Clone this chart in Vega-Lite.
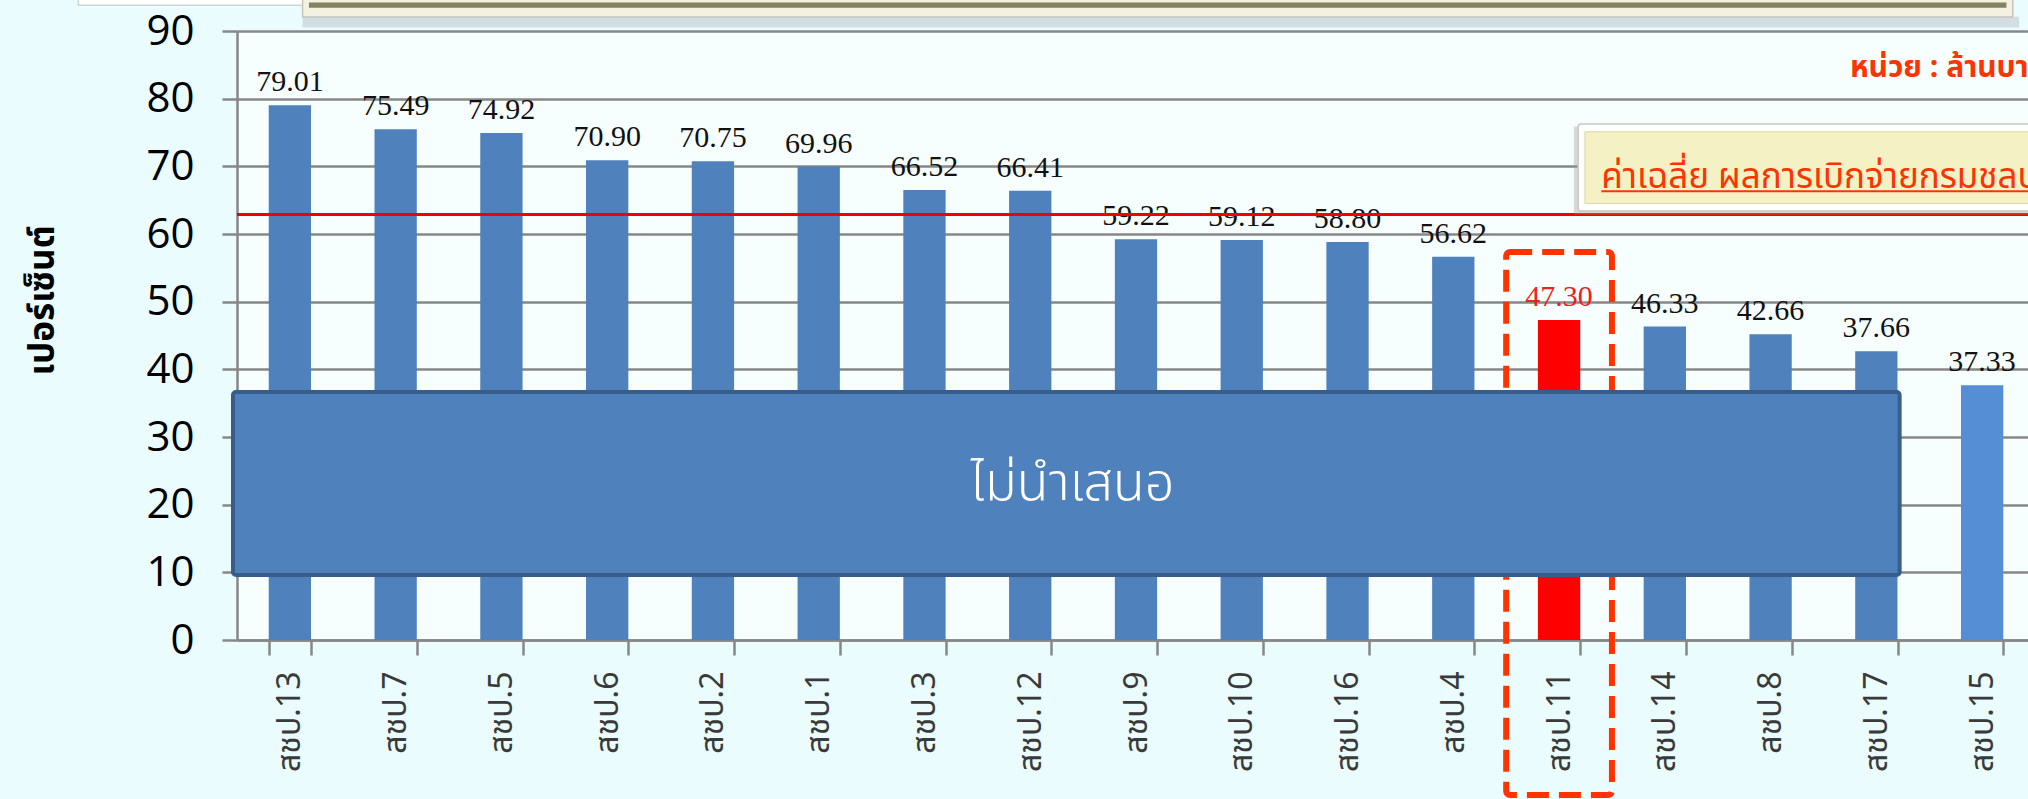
{
  "$schema": "https://vega.github.io/schema/vega-lite/v6.json",
  "autosize": "none",
  "width": 1791,
  "height": 609,
  "padding": {"left": 237, "top": 31, "right": 0, "bottom": 159},
  "background": "#eafcfd",
  "view": {"fill": "#f7fefe", "stroke": null},
  "datasets": {
    "bars": [
      {"region": "สชป.13", "value": 79.01, "label": "79.01", "kind": "normal"},
      {"region": "สชป.7", "value": 75.49, "label": "75.49", "kind": "normal"},
      {"region": "สชป.5", "value": 74.92, "label": "74.92", "kind": "normal"},
      {"region": "สชป.6", "value": 70.90, "label": "70.90", "kind": "normal"},
      {"region": "สชป.2", "value": 70.75, "label": "70.75", "kind": "normal"},
      {"region": "สชป.1", "value": 69.96, "label": "69.96", "kind": "normal"},
      {"region": "สชป.3", "value": 66.52, "label": "66.52", "kind": "normal"},
      {"region": "สชป.12", "value": 66.41, "label": "66.41", "kind": "normal"},
      {"region": "สชป.9", "value": 59.22, "label": "59.22", "kind": "normal"},
      {"region": "สชป.10", "value": 59.12, "label": "59.12", "kind": "normal"},
      {"region": "สชป.16", "value": 58.80, "label": "58.80", "kind": "normal"},
      {"region": "สชป.4", "value": 56.62, "label": "56.62", "kind": "normal"},
      {"region": "สชป.11", "value": 47.30, "label": "47.30", "kind": "focus"},
      {"region": "สชป.14", "value": 46.33, "label": "46.33", "kind": "normal"},
      {"region": "สชป.8", "value": 45.2, "label": "42.66", "kind": "normal"},
      {"region": "สชป.17", "value": 42.66, "label": "37.66", "kind": "normal"},
      {"region": "สชป.15", "value": 37.66, "label": "37.33", "kind": "other"}
    ],
    "notes": [
      {"part": "slide-box", "x1": -1.5, "x2": 0.7, "y1": 93.8, "y2": 95.5},
      {"part": "top-shadow", "x1": 0.62, "x2": 16.85, "y1": 90.5, "y2": 92.1},
      {"part": "top-box", "x1": 0.62, "x2": 16.79, "y1": 92.06, "y2": 95.5},
      {"part": "top-band", "x1": 0.68, "x2": 16.73, "y1": 93.45, "y2": 94.2},
      {"part": "highlight", "x1": 12.0, "x2": 13.0, "y1": -22.9, "y2": 57.34},
      {"part": "omitted", "x1": -0.038, "x2": 15.72, "y1": 9.6, "y2": 36.65},
      {"part": "average", "y1": 62.88},
      {"part": "callout-shadow", "x1": 12.64, "x2": 17.3, "y1": 62.9, "y2": 75.9},
      {"part": "callout", "x1": 12.68, "x2": 17.3, "y1": 63.4, "y2": 76.25},
      {"part": "callout-fill", "x1": 12.745, "x2": 17.3, "y1": 64.5, "y2": 75.1},
      {"part": "underline", "x1": 12.9, "x2": 17.3, "y1": 66.3},
      {"part": "omitted-text", "x1": 7.9, "y1": 23.1, "text": "ไม่นำเสนอ"},
      {"part": "callout-text", "x1": 12.9, "y1": 66.8, "text": "ค่าเฉลี่ย ผลการเบิกจ่ายกรมชลประทาน"},
      {"part": "unit-text", "x1": 15.25, "y1": 83.25, "text": "หน่วย : ล้านบาท"}
    ]
  },
  "resolve": {"scale": {"x": "independent", "y": "independent"}},
  "layer": [
    {
      "data": {"name": "bars"},
      "layer": [
        {
          "mark": {"type": "bar"},
          "encoding": {
            "x": {
              "field": "region", "type": "nominal", "sort": null,
              "scale": {"range": [0, 1798], "paddingInner": 0.6, "paddingOuter": 0.3},
              "axis": {
                "title": null,
                "labelAngle": -90, "labelAlign": "right", "labelBaseline": "middle",
                "labelFont": "Noto Sans Thai, Noto Sans, sans-serif", "labelFontSize": 32, "labelColor": "#3a3a3a",
                "labelPadding": 16, "tickBand": "extent", "tickSize": 15,
                "tickColor": "#878787", "tickWidth": 2.5,
                "domainColor": "#878787", "domainWidth": 2.5, "grid": false
              }
            },
            "y": {
              "field": "value", "type": "quantitative",
              "scale": {"domain": [0, 90], "nice": false},
              "axis": {
                "title": "เปอร์เซ็นต์",
                "titleFont": "Noto Sans Thai, Noto Sans, sans-serif", "titleFontSize": 35, "titleFontWeight": "bold", "titleColor": "#000000",
                "titleX": -195, "titleY": 269, "titleAngle": 270, "titleAlign": "center", "titleBaseline": "middle",
                "values": [0, 10, 20, 30, 40, 50, 60, 70, 80, 90],
                "labelFont": "Open Sans", "labelFontSize": 42, "labelColor": "#000000",
                "labelPadding": 28, "labelOverlap": false,
                "tickSize": 15, "tickColor": "#878787", "tickWidth": 2.5,
                "domainColor": "#878787", "domainWidth": 2.5,
                "grid": true, "gridColor": "#878787", "gridWidth": 2.5
              }
            },
            "color": {
              "field": "kind", "type": "nominal",
              "scale": {"domain": ["normal", "focus", "other"], "range": ["#4f81bd", "#ff0000", "#558ed5"]},
              "legend": null
            }
          }
        },
        {
          "mark": {"type": "text", "font": "Liberation Serif", "fontSize": 30, "baseline": "middle", "dy": -23},
          "encoding": {
            "x": {"field": "region", "type": "nominal", "sort": null},
            "y": {"field": "value", "type": "quantitative"},
            "text": {"field": "label"},
            "color": {"condition": {"test": "datum.kind === 'focus'", "value": "#f02020"}, "value": "#111111"}
          }
        }
      ]
    },
    {
      "data": {"name": "notes"},
      "layer": [
        {
          "transform": [{"filter": "datum.part === 'slide-box'"}],
          "mark": {"type": "rect", "fill": "#ffffff", "stroke": "#cfd4d6", "strokeWidth": 1.5},
          "encoding": {
            "x": {"field": "x1", "type": "quantitative", "scale": {"domain": [0, 17], "range": [0, 1798], "nice": false, "zero": false}, "axis": null},
            "x2": {"field": "x2"},
            "y": {"field": "y1", "type": "quantitative", "scale": {"domain": [0, 90], "nice": false}, "axis": null},
            "y2": {"field": "y2"}
          }
        },
        {
          "transform": [{"filter": "datum.part === 'top-shadow'"}],
          "mark": {"type": "rect", "fill": "#c9d2d6", "opacity": 0.7},
          "encoding": {
            "x": {"field": "x1", "type": "quantitative"}, "x2": {"field": "x2"},
            "y": {"field": "y1", "type": "quantitative"}, "y2": {"field": "y2"}
          }
        },
        {
          "transform": [{"filter": "datum.part === 'top-box'"}],
          "mark": {"type": "rect", "fill": "#f3f1e0", "stroke": "#c4c4bc", "strokeWidth": 1.5},
          "encoding": {
            "x": {"field": "x1", "type": "quantitative"}, "x2": {"field": "x2"},
            "y": {"field": "y1", "type": "quantitative"}, "y2": {"field": "y2"}
          }
        },
        {
          "transform": [{"filter": "datum.part === 'top-band'"}],
          "mark": {"type": "rect", "fill": "#838362"},
          "encoding": {
            "x": {"field": "x1", "type": "quantitative"}, "x2": {"field": "x2"},
            "y": {"field": "y1", "type": "quantitative"}, "y2": {"field": "y2"}
          }
        },
        {
          "transform": [{"filter": "datum.part === 'highlight'"}],
          "mark": {"type": "rect", "fill": "#ffffff", "fillOpacity": 0, "stroke": "#ff3300", "strokeWidth": 6, "strokeDash": [22, 10], "cornerRadius": 4},
          "encoding": {
            "x": {"field": "x1", "type": "quantitative"}, "x2": {"field": "x2"},
            "y": {"field": "y1", "type": "quantitative"}, "y2": {"field": "y2"}
          }
        },
        {
          "transform": [{"filter": "datum.part === 'omitted'"}],
          "mark": {"type": "rect", "fill": "#4f81bd", "stroke": "#385d8a", "strokeWidth": 4, "cornerRadius": 3},
          "encoding": {
            "x": {"field": "x1", "type": "quantitative"}, "x2": {"field": "x2"},
            "y": {"field": "y1", "type": "quantitative"}, "y2": {"field": "y2"}
          }
        },
        {
          "transform": [{"filter": "datum.part === 'omitted-text'"}],
          "mark": {"type": "text", "font": "Noto Sans Thai, Noto Sans, sans-serif", "fontSize": 52, "fontWeight": 300, "color": "#ffffff", "align": "center", "baseline": "middle"},
          "encoding": {
            "x": {"field": "x1", "type": "quantitative"},
            "y": {"field": "y1", "type": "quantitative"},
            "text": {"field": "text"}
          }
        },
        {
          "transform": [{"filter": "datum.part === 'average'"}],
          "mark": {"type": "rule", "color": "#ee0000", "strokeWidth": 3},
          "encoding": {
            "y": {"field": "y1", "type": "quantitative"}
          }
        },
        {
          "transform": [{"filter": "datum.part === 'callout-shadow'"}],
          "mark": {"type": "rect", "fill": "#9a9a90", "opacity": 0.35},
          "encoding": {
            "x": {"field": "x1", "type": "quantitative"}, "x2": {"field": "x2"},
            "y": {"field": "y1", "type": "quantitative"}, "y2": {"field": "y2"}
          }
        },
        {
          "transform": [{"filter": "datum.part === 'callout'"}],
          "mark": {"type": "rect", "fill": "#ffffff", "stroke": "#c8c8c0", "strokeWidth": 1.5, "cornerRadius": 3},
          "encoding": {
            "x": {"field": "x1", "type": "quantitative"}, "x2": {"field": "x2"},
            "y": {"field": "y1", "type": "quantitative"}, "y2": {"field": "y2"}
          }
        },
        {
          "transform": [{"filter": "datum.part === 'callout-fill'"}],
          "mark": {"type": "rect", "fill": "#f4f2c4", "stroke": "#d8d6a8", "strokeWidth": 1},
          "encoding": {
            "x": {"field": "x1", "type": "quantitative"}, "x2": {"field": "x2"},
            "y": {"field": "y1", "type": "quantitative"}, "y2": {"field": "y2"}
          }
        },
        {
          "transform": [{"filter": "datum.part === 'callout-text'"}],
          "mark": {"type": "text", "font": "Noto Sans Thai, Noto Sans, sans-serif", "fontSize": 35, "color": "#ff3300", "align": "left", "baseline": "alphabetic"},
          "encoding": {
            "x": {"field": "x1", "type": "quantitative"},
            "y": {"field": "y1", "type": "quantitative"},
            "text": {"field": "text"}
          }
        },
        {
          "transform": [{"filter": "datum.part === 'underline'"}],
          "mark": {"type": "rule", "color": "#ff3300", "strokeWidth": 2},
          "encoding": {
            "x": {"field": "x1", "type": "quantitative"}, "x2": {"field": "x2"},
            "y": {"field": "y1", "type": "quantitative"}
          }
        },
        {
          "transform": [{"filter": "datum.part === 'unit-text'"}],
          "mark": {"type": "text", "font": "Noto Sans Thai, Noto Sans, sans-serif", "fontSize": 30, "fontWeight": "bold", "color": "#ff3300", "align": "left", "baseline": "alphabetic"},
          "encoding": {
            "x": {"field": "x1", "type": "quantitative"},
            "y": {"field": "y1", "type": "quantitative"},
            "text": {"field": "text"}
          }
        }
      ]
    }
  ]
}
